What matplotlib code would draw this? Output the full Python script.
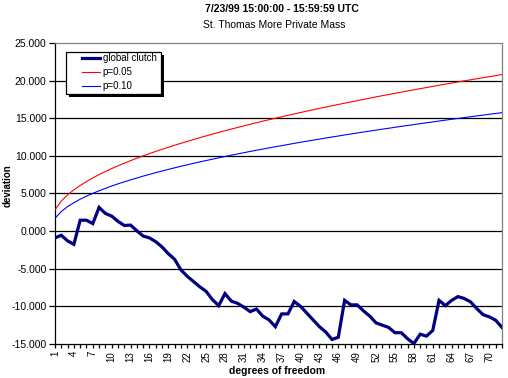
import matplotlib
matplotlib.use("Agg")
import matplotlib.pyplot as plt
from matplotlib.patches import Rectangle
from matplotlib.ticker import FuncFormatter

plt.rcParams['font.family'] = ['Liberation Sans', 'DejaVu Sans']

df = list(range(1, 73))

clutch = [-0.9, -0.55, -1.3, -1.75, 1.45, 1.45, 1.0, 3.15, 2.35, 2.0,
          1.3, 0.75, 0.8, 0.05, -0.65, -0.9, -1.4, -2.1, -3.0, -3.75,
          -5.15, -6.0, -6.7, -7.4, -8.0, -9.1, -9.9, -8.3, -9.3, -9.6,
          -10.1, -10.7, -10.35, -11.3, -11.8, -12.7, -11.0, -11.0, -9.35, -10.0,
          -10.9, -11.8, -12.7, -13.4, -14.4, -14.1, -9.2, -9.8, -9.8, -10.6,
          -11.3, -12.2, -12.5, -12.8, -13.5, -13.5, -14.3, -14.95, -13.7, -13.95,
          -13.2, -9.2, -9.9, -9.2, -8.7, -8.95, -9.4, -10.3, -11.1, -11.4,
          -11.85, -12.8]

p05 = [2.84, 3.99, 4.82, 5.49, 6.07, 6.59, 7.07, 7.51, 7.92, 8.31,
       8.68, 9.03, 9.36, 9.69, 10.00, 10.30, 10.59, 10.87, 11.14, 11.41,
       11.67, 11.92, 12.17, 12.42, 12.65, 12.89, 13.11, 13.34, 13.56, 13.77,
       13.99, 14.20, 14.40, 14.61, 14.81, 15.00, 15.20, 15.39, 15.58, 15.76,
       15.95, 16.13, 16.31, 16.48, 16.66, 16.83, 17.00, 17.17, 17.34, 17.50,
       17.67, 17.84, 18.00, 18.16, 18.31, 18.47, 18.63, 18.78, 18.93, 19.08,
       19.23, 19.38, 19.53, 19.68, 19.82, 19.97, 20.11, 20.25, 20.39, 20.53,
       20.67, 20.81]

p10 = [1.71, 2.61, 3.25, 3.78, 4.24, 4.65, 5.02, 5.36, 5.68, 5.99,
       6.28, 6.55, 6.81, 7.06, 7.31, 7.54, 7.77, 7.99, 8.20, 8.41,
       8.62, 8.81, 9.01, 9.20, 9.38, 9.56, 9.74, 9.92, 10.09, 10.26,
       10.42, 10.59, 10.75, 10.90, 11.06, 11.21, 11.36, 11.51, 11.66, 11.81,
       11.95, 12.09, 12.23, 12.37, 12.51, 12.64, 12.78, 12.91, 13.04, 13.17,
       13.30, 13.42, 13.55, 13.67, 13.80, 13.92, 14.04, 14.16, 14.28, 14.40,
       14.51, 14.63, 14.75, 14.86, 14.97, 15.09, 15.20, 15.31, 15.42, 15.53,
       15.64, 15.74]

yticks = [-15, -10, -5, 0, 5, 10, 15, 20, 25]
xlabels = list(range(1, 73, 3))

W, H = 508, 378
fig = plt.figure(figsize=(W/100, H/100), dpi=100)
ax = fig.add_axes([55/W, 1-344/H, 447/W, 301/H])

for y in yticks[1:-1]:
    ax.axhline(y, color='black', lw=0.9, zorder=1)

ax.plot(df, clutch, color='#000080', lw=2.3, label='global clutch', zorder=4,
        solid_joinstyle='miter')
ax.plot(df, p05, color='#ff0000', lw=0.8, label='p=0.05', zorder=3)
ax.plot(df, p10, color='#0000ff', lw=0.8, label='p=0.10', zorder=3)

ax.set_xlim(1, 72)
ax.set_ylim(-15, 25)
ax.set_yticks(yticks)
ax.yaxis.set_major_formatter(FuncFormatter(lambda v, pos: '%.3f' % v))
ax.set_xticks(df, minor=True)
ax.set_xticks(xlabels)
ax.set_xticklabels([str(v) for v in xlabels], rotation=90, fontsize=7)
ax.tick_params(axis='y', direction='out', length=4, width=0.9, labelsize=7.5, pad=2)
ax.tick_params(axis='x', which='both', direction='out', length=3, width=0.9, pad=2)

ax.spines['left'].set_color('black')
ax.spines['bottom'].set_color('black')
ax.spines['top'].set_color('#808080')
ax.spines['right'].set_color('#808080')
for s in ax.spines.values():
    s.set_linewidth(0.9)

fig.text(0.555, 1-9/H, '7/23/99 15:00:00 - 15:59:59 UTC', ha='center', va='center',
         fontsize=7.5, fontweight='bold')
fig.text(0.54, 1-25/H, 'St. Thomas More Private Mass', ha='center', va='center',
         fontsize=7.5)
fig.text(8/W, 1-186/H, 'deviation', rotation=90, ha='center', va='center',
         fontsize=7, fontweight='bold')
fig.text(277/W, 1-371/H, 'degrees of freedom', ha='center', va='center',
         fontsize=7.5, fontweight='bold')

# legend box with black drop shadow, Excel style
bx0, by0, bx1, by1 = 66, 52, 161, 94
fig.patches.append(Rectangle(((bx0+3)/W, 1-(by1+3)/H), (bx1-bx0)/W, (by1-by0)/H,
                             transform=fig.transFigure, facecolor='black',
                             edgecolor='none', zorder=5))
fig.patches.append(Rectangle((bx0/W, 1-by1/H), (bx1-bx0)/W, (by1-by0)/H,
                             transform=fig.transFigure, facecolor='white',
                             edgecolor='black', lw=0.9, zorder=6))
leg = ax.legend(loc='upper left', bbox_to_anchor=(80/W, 1-51/H),
                bbox_transform=fig.transFigure, frameon=False,
                fontsize=7, handlelength=1.9, handletextpad=0.25,
                labelspacing=0.42, borderpad=0.2, borderaxespad=0)
leg.set_zorder(7)
leg.remove()
fig.add_artist(leg)

fig.savefig('out.png', dpi=100)
